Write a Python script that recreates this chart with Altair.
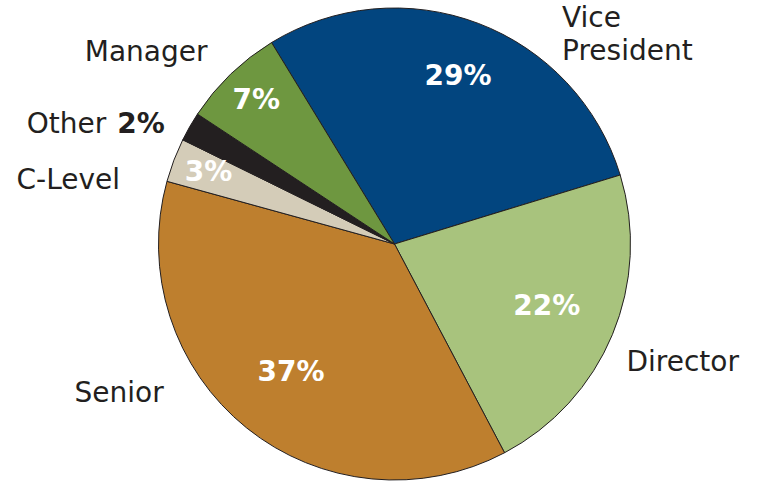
import math
import altair as alt
import pandas as pd

categories = ["Vice President", "Director", "Senior", "C-Level", "Other", "Manager"]
values = [29, 22, 37, 3, 2, 7]
colors = ["#02457f", "#a8c37d", "#be7f2e", "#d4ccb8", "#231f20", "#6e9740"]

df = pd.DataFrame({"category": categories, "value": values, "idx": list(range(len(categories)))})

START = -0.548
CX, CY, R = 394.5, 244, 236
FONT = "DejaVu Sans"
INK = "#231f20"

base = alt.Chart(df).transform_calculate(
    label="datum.value + '%'"
).encode(
    theta=alt.Theta("value:Q", stack=True,
                    scale=alt.Scale(domain=[0, 100], range=[START, START + 2 * math.pi])),
    order=alt.Order("idx:Q"),
    x=alt.value(CX),
    y=alt.value(CY),
)

arc = base.mark_arc(outerRadius=R, stroke=INK, strokeWidth=1).encode(
    color=alt.Color("category:N", scale=alt.Scale(domain=categories, range=colors), legend=None)
)


def pct_layer(cats, radius):
    return base.mark_text(radius=radius, font=FONT, fontSize=28, fontWeight="bold",
                          color="white", align="center", baseline="middle").encode(
        text=alt.condition(alt.FieldOneOfPredicate(field="category", oneOf=cats),
                           alt.Text("label:N"), alt.value(""))
    )


def name_layer(cat, txt, dx, dy, align, weight="normal", **kw):
    return base.mark_text(radius=300, font=FONT, fontSize=28, fontWeight=weight, color=INK,
                          align=align, baseline="alphabetic", dx=dx, dy=dy, **kw).encode(
        text=alt.condition(alt.datum.category == cat, alt.value(txt), alt.value(""))
    )


layers = [
    arc,
    pct_layer(["Vice President"], 179),
    pct_layer(["Director", "Senior"], 165),
    pct_layer(["Manager", "C-Level"], 199),
    name_layer("Vice President", "Vice\nPresident", 61, 63, "left", lineBreak="\n", lineHeight=33),
    name_layer("Director", "Director", -45, 12, "left"),
    name_layer("Senior", "Senior", -132, -76, "left"),
    name_layer("C-Level", "C-Level", 6, 52, "right"),
    name_layer("Other", "Other", -28, 38, "right"),
    name_layer("Other", "2%", -17, 38, "left", weight="bold"),
    name_layer("Manager", "Manager", -40, 33, "center"),
]

chart = alt.layer(*layers).properties(
    width=761, height=481, padding=0, autosize=alt.AutoSizeParams(type="none"),
    background="white"
).configure_view(stroke=None)

chart.save("out.html", embed_options={"renderer": "svg", "actions": False})
